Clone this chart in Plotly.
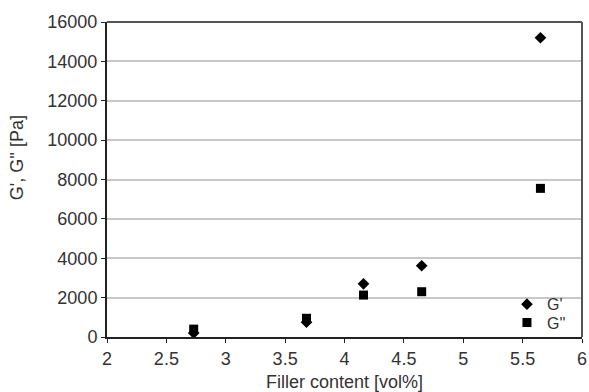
import plotly.graph_objects as go

filler = [2.73, 3.68, 4.16, 4.65, 5.65]
g_storage = [200, 750, 2700, 3620, 15200]
g_loss = [400, 950, 2130, 2300, 7550]

x_ticks = [2, 2.5, 3, 3.5, 4, 4.5, 5, 5.5, 6]
y_ticks = [0, 2000, 4000, 6000, 8000, 10000, 12000, 14000, 16000]

FAM = "Liberation Sans, Arial, sans-serif"
TXT = "#333333"

fig = go.Figure()
fig.add_trace(go.Scatter(x=filler, y=g_storage, mode="markers", name="G'",
                         legend="legend",
                         marker=dict(symbol="diamond", size=9, color="black")))
fig.add_trace(go.Scatter(x=filler, y=g_loss, mode="markers", name="G''",
                         legend="legend2",
                         marker=dict(symbol="square", size=9, color="black")))

leg_common = dict(xanchor="left", yanchor="middle", bgcolor="rgba(255,255,255,0)",
                  font=dict(family=FAM, size=16, color=TXT), itemsizing="trace",
                  itemwidth=30, borderwidth=0)

fig.update_layout(
    width=589, height=392,
    margin=dict(l=107, r=7, t=22, b=55, autoexpand=False),
    paper_bgcolor="white", plot_bgcolor="white",
    font=dict(family=FAM, size=18, color=TXT),
    showlegend=True,
    legend=dict(x=0.842, y=0.104, **leg_common),
    legend2=dict(x=0.842, y=0.046, **leg_common),
    xaxis=dict(range=[2, 6], tickvals=x_ticks, ticktext=[str(v) for v in x_ticks],
               showgrid=False, zeroline=False, showline=True, linecolor="#222222",
               linewidth=2, mirror=False, ticks="outside", ticklen=4, tickcolor="#222222",
               automargin=False, tickfont=dict(size=18),
               title=dict(text="Filler content [vol%]", standoff=10,
                          font=dict(size=18))),
    yaxis=dict(range=[0, 16000], tickvals=y_ticks, ticktext=[str(v) for v in y_ticks],
               showgrid=True, gridcolor="#c8c8c8", gridwidth=1.5, zeroline=False,
               showline=True, linecolor="#222222", linewidth=2, ticks="outside",
               ticklen=4, tickcolor="#222222", automargin=False, tickfont=dict(size=18)),
    annotations=[dict(text="G', G'' [Pa]", xref="paper", yref="paper",
                      x=-0.189, y=0.568, xanchor="center", yanchor="middle",
                      textangle=-90, showarrow=False,
                      font=dict(family=FAM, size=18, color=TXT))],
)
# top and right frame
fig.add_shape(type="line", xref="paper", yref="paper", x0=0, x1=1, y0=1, y1=1,
              line=dict(color="#555555", width=2))
fig.add_shape(type="line", xref="paper", yref="paper", x0=1, x1=1, y0=0, y1=1,
              line=dict(color="#555555", width=2))

fig.write_html("out.html", config={"displayModeBar": False},
               post_script="document.body.style.margin='0';document.body.style.padding='0';")
